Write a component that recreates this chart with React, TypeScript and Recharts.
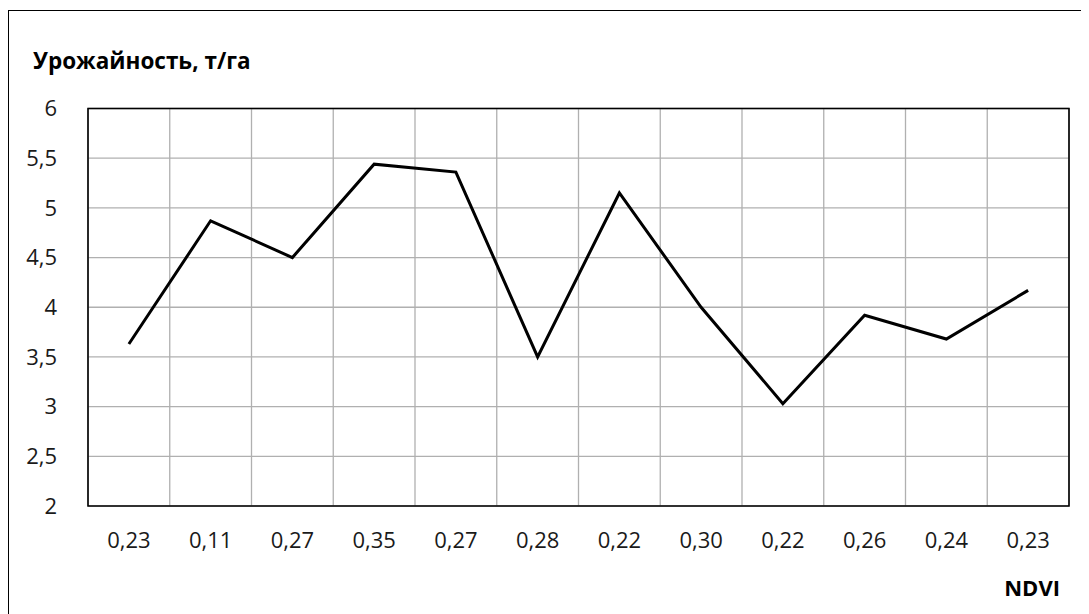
import React from "react";
import {
  LineChart,
  Line,
  XAxis,
  YAxis,
  CartesianGrid,
  ReferenceArea,
} from "recharts";

// NDVI value of each field (category labels, in order)
const ndviLabels: string[] = [
  "0,23", "0,11", "0,27", "0,35", "0,27", "0,28",
  "0,22", "0,30", "0,22", "0,26", "0,24", "0,23",
];

// Yield, t/ha, for each field
const yieldValues: number[] = [
  3.63, 4.87, 4.5, 5.44, 5.36, 3.5, 5.15, 4.0, 3.03, 3.92, 3.68, 4.17,
];

const yTicks: number[] = [2, 2.5, 3, 3.5, 4, 4.5, 5, 5.5, 6];

// Each field occupies one unit-wide slot on a numeric x axis; the point sits in its middle
const slotCentres = ndviLabels.map((_, i) => i + 0.5);
const slotEdges = [0, ...ndviLabels.map((_, i) => i + 1)];
const slotCount = ndviLabels.length;

const data = ndviLabels.map((ndvi, i) => ({
  ndvi,
  slot: slotCentres[i],
  value: yieldValues[i],
}));

const FONT = "'Open Sans', 'Noto Sans', sans-serif";
const CHART_W = 1081;
const CHART_H = 606;
const MARGIN = { top: 100.5, right: 20, bottom: 78, left: 10 };
const Y_AXIS_W = 70;

const fmtY = (v: number) => String(v).replace(".", ",");
const fmtX = (v: number) => ndviLabels[Math.floor(v)] ?? "";

export default function App() {
  return (
    <div style={{ position: "relative", width: CHART_W, height: CHART_H, fontFamily: FONT }}>
      <div
        style={{
          position: "absolute",
          top: 1.5,
          left: -0.5,
          width: CHART_W + 20,
          height: CHART_H + 20,
          borderTop: "1.5px solid #000",
          borderLeft: "1.5px solid #000",
        }}
      />
      <div style={{ position: "absolute", left: 0, top: 0 }}>
        <LineChart width={CHART_W} height={CHART_H} data={data} margin={MARGIN}>
          <XAxis
            xAxisId="grid"
            dataKey="slot"
            type="number"
            domain={[0, slotCount]}
            allowDataOverflow
            ticks={slotEdges}
            hide
          />
          <XAxis
            dataKey="slot"
            type="number"
            domain={[0, slotCount]}
            allowDataOverflow
            ticks={slotCentres}
            interval={0}
            tickFormatter={fmtX}
            axisLine={false}
            tickLine={false}
            tickSize={6}
            tickMargin={20}
            height={30}
            tick={{ fontSize: 22, fill: "#1a1a1a", fontFamily: FONT }}
          />
          <YAxis
            domain={[2, 6]}
            ticks={yTicks}
            width={Y_AXIS_W}
            axisLine={false}
            tickLine={false}
            tickSize={6}
            tickMargin={22}
            tickFormatter={fmtY}
            tick={{ fontSize: 22, fill: "#1a1a1a", fontFamily: FONT, dx: -3 }}
          />
          <CartesianGrid xAxisId="grid" stroke="#b0b0b0" strokeWidth={1.3} />
          <ReferenceArea
            xAxisId="grid"
            x1={0}
            x2={slotCount}
            y1={2}
            y2={6}
            fill="none"
            fillOpacity={0}
            stroke="#000"
            strokeWidth={1.6}
            ifOverflow="visible"
          />
          <Line
            dataKey="value"
            stroke="#000"
            strokeWidth={3}
            dot={false}
            activeDot={false}
            isAnimationActive={false}
            strokeLinejoin="miter"
          />
        </LineChart>
      </div>
      <div
        style={{
          position: "absolute",
          left: 25,
          top: 38,
          fontSize: 22.5,
          lineHeight: "30px",
          fontWeight: 700,
          color: "#000",
          whiteSpace: "nowrap",
        }}
      >
        Урожайность, т/га
      </div>
      <div
        style={{
          position: "absolute",
          right: CHART_W - 1052,
          top: 564,
          fontSize: 22,
          lineHeight: "30px",
          fontWeight: 700,
          color: "#000",
          whiteSpace: "nowrap",
        }}
      >
        NDVI
      </div>
    </div>
  );
}
